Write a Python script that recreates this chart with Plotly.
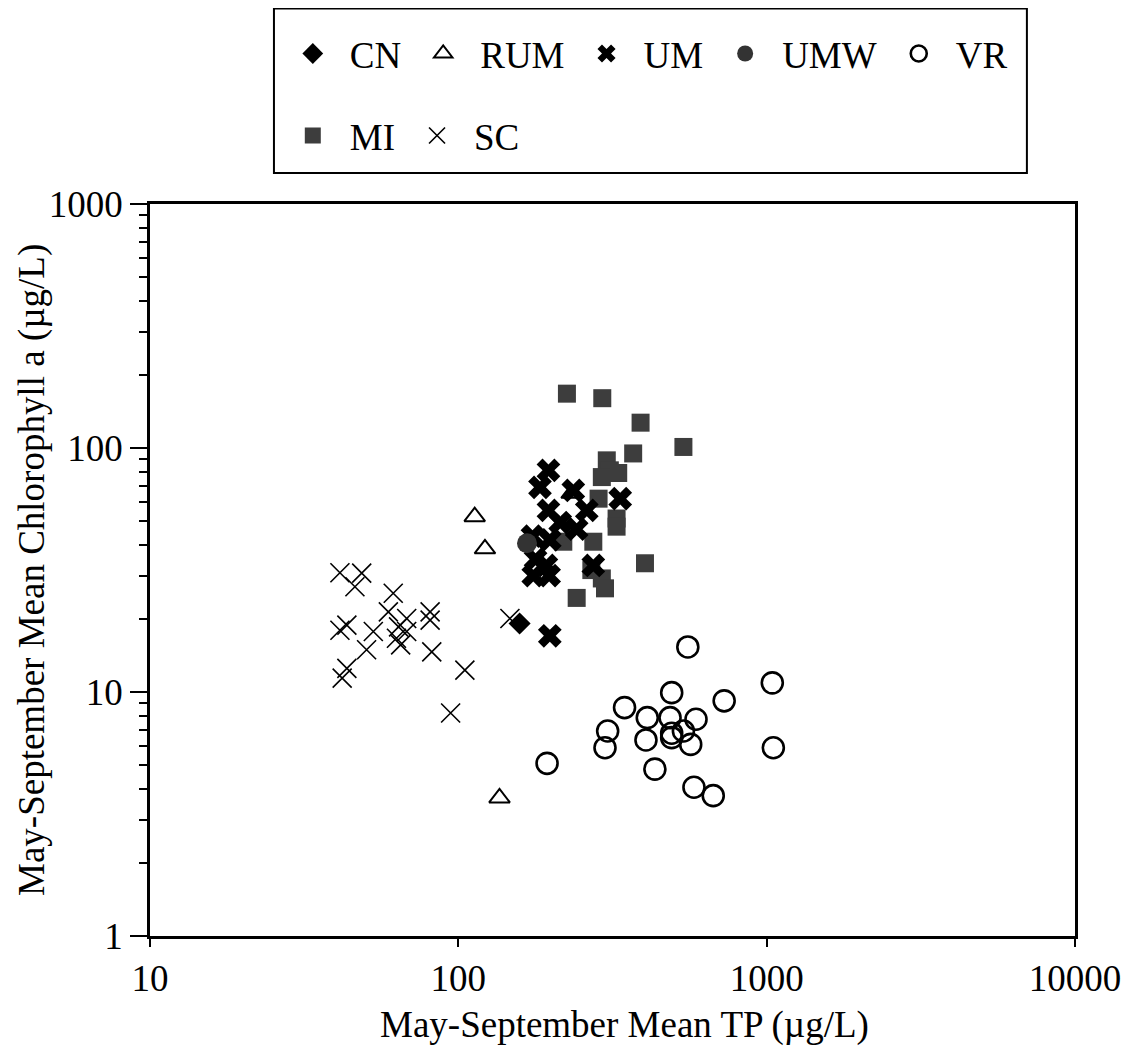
import plotly.graph_objects as go

# ---- data (TP in µg/L, Chlorophyll a in µg/L) ----
cn_tp = [158]
cn_chl = [19.1]

rum_tp = [113, 122, 233, 136]
rum_chl = [52.3, 38.6, 65.2, 3.68]

um_tp = [196, 184, 236, 335, 196, 261, 214, 242, 174, 198, 178, 175, 197, 193, 274, 198]
um_chl = [81, 69, 67, 62, 55.5, 55.5, 49.5, 46.5, 43.5, 42, 35, 30, 30, 33, 33, 17]

umw_tp = [167]
umw_chl = [40.7]

vr_tp = [555, 1043, 492, 728, 346, 410, 486, 590, 305, 492, 537, 406, 492, 567, 299, 1051, 194, 434, 581, 671]
vr_chl = [15.3, 10.9, 9.94, 9.2, 8.63, 7.85, 7.85, 7.73, 6.92, 6.78, 6.92, 6.36, 6.5, 6.1, 5.91, 5.91, 5.1, 4.83, 4.07, 3.76]

mi_tp = [225, 293, 390, 537, 369, 303, 310, 292, 330, 285, 326, 326, 274, 219, 403, 270, 292, 299, 242]
mi_chl = [167, 160, 127, 101, 95, 89, 81, 76, 79, 62, 51.4, 47.6, 41.3, 41.3, 33.7, 31.6, 29.2, 26.6, 24.3]

sc_tp = [41.3, 48.6, 46.2, 61.5, 59.3, 81, 81, 43.5, 41.3, 53, 64, 68, 68, 65, 63, 50.4, 82, 43.5, 42, 105, 94.4, 147]
sc_chl = [30.8, 30.7, 27, 25.4, 21.3, 21.3, 19.7, 18.8, 17.9, 17.7, 18.5, 17.7, 20, 15.6, 16.6, 14.9, 14.6, 12.5, 11.4, 12.3, 8.2, 20]

y_tickvals = [1, 10, 100, 1000]
y_ticktext = ["1", "10", "100", "1000"]
y_minor_vals = [2, 3, 4, 5, 6, 7, 8, 9, 20, 30, 40, 50, 60, 70, 80, 90, 200, 300, 400, 500, 600, 700, 800, 900]
x_tickvals = [10, 100, 1000, 10000]
x_ticktext = ["10", "100", "1000", "10000"]

x_title = "May-September Mean TP (µg/L)"
y_title = "May-September Mean Chlorophyll a (µg/L)"

FONT = "Liberation Serif, Times New Roman, serif"
FS = 37

fig = go.Figure()

# drawing order (bottom to top)
fig.add_trace(go.Scatter(x=vr_tp, y=vr_chl, mode="markers", name="VR", legend="legend", legendrank=5,
                         marker=dict(symbol="circle-open", size=21, color="black", line=dict(width=2.6, color="black"))))
fig.add_trace(go.Scatter(x=sc_tp, y=sc_chl, mode="markers", name="SC", legend="legend2", legendrank=2,
                         marker=dict(symbol="x-thin", size=19, color="black", line=dict(width=1.6, color="black"))))
fig.add_trace(go.Scatter(x=rum_tp, y=rum_chl, mode="markers", name="RUM", legend="legend", legendrank=2,
                         marker=dict(symbol="triangle-up-open", size=18, color="black", line=dict(width=2, color="black"))))
fig.add_trace(go.Scatter(x=mi_tp, y=mi_chl, mode="markers", name="MI", legend="legend2", legendrank=1,
                         marker=dict(symbol="square", size=18, color="#3d3d3d", line=dict(width=0))))
fig.add_trace(go.Scatter(x=um_tp, y=um_chl, mode="markers", name="UM", legend="legend", legendrank=3,
                         marker=dict(symbol="x", size=21, color="black", line=dict(width=0))))
fig.add_trace(go.Scatter(x=umw_tp, y=umw_chl, mode="markers", name="UMW", legend="legend", legendrank=4,
                         marker=dict(symbol="circle", size=20, color="#333333", line=dict(width=0))))
fig.add_trace(go.Scatter(x=cn_tp, y=cn_chl, mode="markers", name="CN", legend="legend", legendrank=1,
                         marker=dict(symbol="diamond", size=17, color="black", line=dict(width=0))))

axis_common = dict(
    type="log", showline=True, linecolor="black", linewidth=2.5, mirror=True,
    showgrid=False, zeroline=False, ticks="outside", tickcolor="black", tickwidth=2,
    tickfont=dict(family=FONT, size=FS, color="black"),
)

fig.update_xaxes(**axis_common, range=[1, 4], tickvals=x_tickvals, ticktext=x_ticktext, ticklen=8)
fig.update_yaxes(**axis_common, range=[0, 3], tickvals=y_tickvals, ticktext=y_ticktext, ticklen=17,
                 minor=dict(tickvals=y_minor_vals, ticks="outside", ticklen=8, tickcolor="black", tickwidth=1.5))

leg_common = dict(orientation="h", xanchor="left", yanchor="middle", bgcolor="rgba(0,0,0,0)", borderwidth=0,
                  font=dict(family=FONT, size=FS, color="black"), itemwidth=64)

fig.update_layout(
    width=1117, height=1040,
    margin=dict(l=142, r=50, t=196, b=112, autoexpand=False),
    paper_bgcolor="white", plot_bgcolor="white",
    font=dict(family=FONT, size=FS, color="black"),
    legend=dict(**leg_common, x=0.136, y=1.205),
    legend2=dict(**leg_common, x=0.136, y=1.093),
    shapes=[dict(type="rect", xref="paper", yref="paper", x0=0.134, x1=0.948, y0=1.0423, y1=1.267,
                 line=dict(color="black", width=2), fillcolor="rgba(0,0,0,0)", layer="above")],
    annotations=[
        dict(text=y_title, xref="paper", yref="paper", x=-0.1276, y=0.5, xanchor="center", yanchor="middle",
             textangle=-90, showarrow=False, font=dict(family=FONT, size=FS, color="black")),
        dict(text=x_title, xref="paper", yref="paper", x=0.5135, y=-0.1216, xanchor="center", yanchor="middle",
             showarrow=False, font=dict(family=FONT, size=FS, color="black")),
    ],
)

fig.write_html("out.html")
